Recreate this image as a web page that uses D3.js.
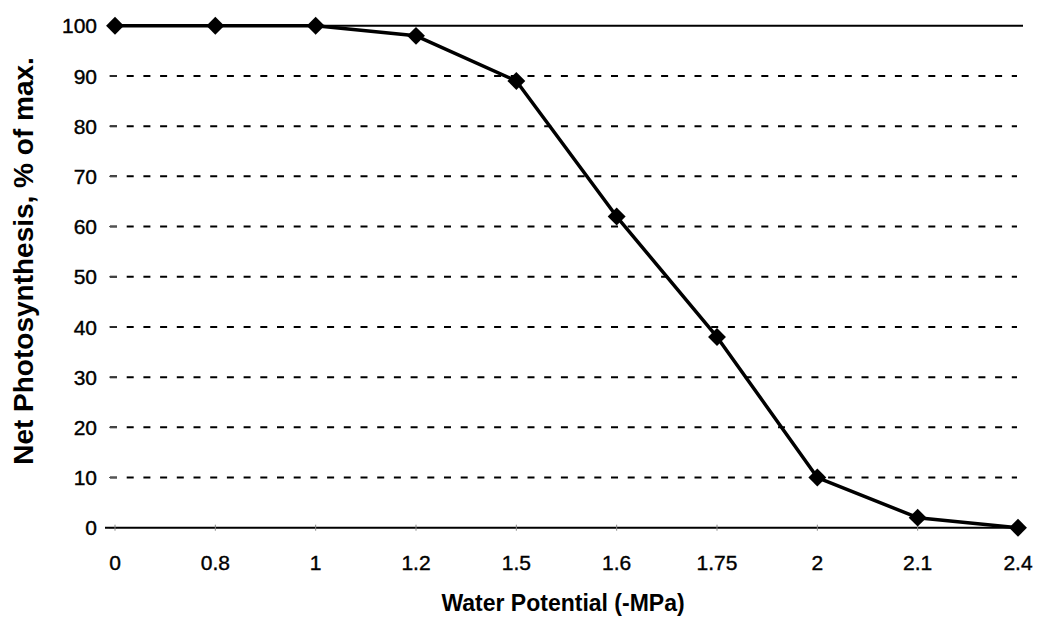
<!DOCTYPE html>
<html>
<head>
<meta charset="utf-8">
<script src="https://cdn.jsdelivr.net/npm/d3@7.9.0/dist/d3.min.js"></script>
<style>
  body { margin: 0; background: #fff; }
  text { font-family: "Liberation Sans", Arial, sans-serif; fill: #000; }
</style>
</head>
<body>
<div id="chart"></div>
<script>
// Data
const waterPotential = ["0", "0.8", "1", "1.2", "1.5", "1.6", "1.75", "2", "2.1", "2.4"];
const netPhotosynthesis = [100, 100, 100, 98, 89, 62, 38, 10, 2, 0];
const yTicks = [0, 10, 20, 30, 40, 50, 60, 70, 80, 90, 100];

const xTitle = "Water Potential (-MPa)";
const yTitle = "Net Photosynthesis, % of max.";

// plot sizing
const width = 1039;
const height = 621;
const plotLeft = 110;

const data = waterPotential.map((wp, i) => ({ wp: wp, value: netPhotosynthesis[i] }));

const svg = d3.select("#chart")
  .append("svg")
  .attr("width", width)
  .attr("height", height);

const xScale = d3.scalePoint()
  .domain(waterPotential)
  .range([115, 1018]);

const yScale = d3.scaleLinear()
  .domain([0, 100])
  .range([527.7, 25.8]);

// dashed gridlines (10..90)
svg.selectAll(".grid")
  .data(yTicks.filter(t => t > 0 && t < 100))
  .enter()
  .append("line")
  .attr("class", "grid")
  .attr("x1", plotLeft)
  .attr("x2", 1017)
  .attr("y1", d => yScale(d))
  .attr("y2", d => yScale(d))
  .attr("stroke", "#000")
  .attr("stroke-width", 2)
  .attr("stroke-dasharray", "7,9.7");

// solid line at 100
svg.append("line")
  .attr("x1", plotLeft)
  .attr("x2", 1023)
  .attr("y1", yScale(100))
  .attr("y2", yScale(100))
  .attr("stroke", "#000")
  .attr("stroke-width", 2);

// faint y axis ticks
svg.selectAll(".ytick")
  .data(yTicks)
  .enter()
  .append("line")
  .attr("class", "ytick")
  .attr("x1", 109)
  .attr("x2", 117)
  .attr("y1", d => yScale(d))
  .attr("y2", d => yScale(d))
  .attr("stroke", "#555")
  .attr("stroke-width", 1);

// x axis line
svg.append("line")
  .attr("x1", 105)
  .attr("x2", 1023)
  .attr("y1", yScale(0))
  .attr("y2", yScale(0))
  .attr("stroke", "#000")
  .attr("stroke-width", 2);

// small x ticks
svg.selectAll(".xtick")
  .data(waterPotential)
  .enter()
  .append("line")
  .attr("class", "xtick")
  .attr("x1", d => xScale(d))
  .attr("x2", d => xScale(d))
  .attr("y1", yScale(0) - 3)
  .attr("y2", yScale(0) + 3)
  .attr("stroke", "#888")
  .attr("stroke-width", 1);

// y tick labels
svg.selectAll(".ylabel")
  .data(yTicks)
  .enter()
  .append("text")
  .attr("class", "ylabel")
  .attr("x", 97)
  .attr("y", d => yScale(d))
  .attr("dy", "0.36em")
  .attr("text-anchor", "end")
  .style("font-size", "21px")
  .style("stroke", "#000")
  .style("stroke-width", 0.4)
  .text(d => d);

// x tick labels
svg.selectAll(".xlabel")
  .data(waterPotential)
  .enter()
  .append("text")
  .attr("class", "xlabel")
  .attr("x", d => xScale(d))
  .attr("y", 570)
  .attr("text-anchor", "middle")
  .style("font-size", "21px")
  .style("stroke", "#000")
  .style("stroke-width", 0.4)
  .text(d => d);

// axis titles
svg.append("text")
  .attr("x", 563)
  .attr("y", 611)
  .attr("text-anchor", "middle")
  .style("font-size", "23px")
  .style("font-weight", "bold")
  .text(xTitle);

svg.append("text")
  .attr("transform", "translate(33,261) rotate(-90)")
  .attr("text-anchor", "middle")
  .style("font-size", "28px")
  .style("font-weight", "bold")
  .text(yTitle);

// data line
const line = d3.line()
  .x(d => xScale(d.wp))
  .y(d => yScale(d.value));

svg.append("path")
  .datum(data)
  .attr("fill", "none")
  .attr("stroke", "#000")
  .attr("stroke-width", 3.5)
  .attr("stroke-linejoin", "round")
  .attr("d", line);

// diamond markers
const diamond = d3.symbol().type(d3.symbolSquare).size(160);

svg.selectAll(".marker")
  .data(data)
  .enter()
  .append("path")
  .attr("class", "marker")
  .attr("transform", d => `translate(${xScale(d.wp)},${yScale(d.value)}) rotate(45)`)
  .attr("d", diamond)
  .attr("fill", "#000");
</script>
</body>
</html>
